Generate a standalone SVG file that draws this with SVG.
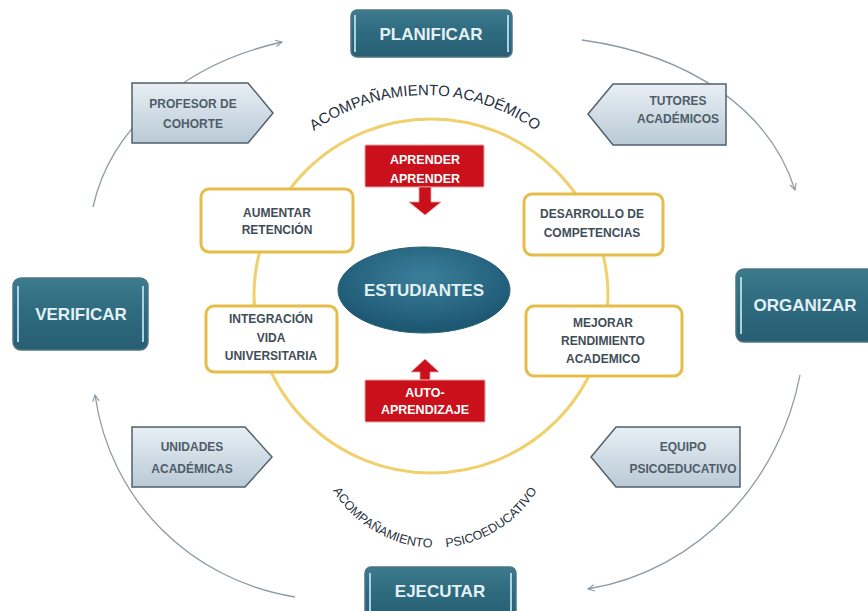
<svg xmlns="http://www.w3.org/2000/svg" width="868" height="611" viewBox="0 0 868 611">
<defs>
<linearGradient id="teal" x1="0" y1="0" x2="0" y2="1">
<stop offset="0" stop-color="#3c7a8e"/><stop offset="0.5" stop-color="#2e6a7e"/><stop offset="1" stop-color="#285e72"/>
</linearGradient>
<linearGradient id="pent" x1="0" y1="0" x2="0" y2="1">
<stop offset="0" stop-color="#e8eff4"/><stop offset="1" stop-color="#b9cad6"/>
</linearGradient>
<radialGradient id="ell" cx="0.5" cy="0.35" r="0.6">
<stop offset="0" stop-color="#3b7f9a"/><stop offset="1" stop-color="#1d5873"/>
</radialGradient>
<marker id="ah" viewBox="0 0 10 10" refX="9" refY="5" markerWidth="8" markerHeight="8" orient="auto" markerUnits="userSpaceOnUse">
<path d="M1 1 L9 5 L1 9" fill="none" stroke="#8c9ba5" stroke-width="1.4"/>
</marker>
<path id="topArc" d="M 300 142 A 190 190 0 0 1 550 142"/>
<path id="botArc" d="M 322 468 A 120 120 0 0 0 548 468"/>
</defs>
<style>
.tealbox{fill:url(#teal);stroke:#4d7583;stroke-width:1.5}
.edge{stroke:#a9d3e2;stroke-width:2}
.tt{font-family:"Liberation Sans",Arial,sans-serif;font-weight:bold;font-size:17px;fill:#e3f0f4;text-anchor:middle}
.pent{fill:url(#pent);stroke:#50606c;stroke-width:1.5}
.pt{font-family:"Liberation Sans",Arial,sans-serif;font-weight:bold;font-size:12px;fill:#4f5d69;text-anchor:middle}
.yb{fill:#ffffff;stroke:#e6bd4a;stroke-width:3}
.yt{font-family:"Liberation Sans",Arial,sans-serif;font-weight:bold;font-size:12px;fill:#3f4d58;text-anchor:middle}
.red{fill:#c9101b;stroke:#e8a0a0;stroke-width:1}
.rt{font-family:"Liberation Sans",Arial,sans-serif;font-weight:bold;font-size:12.5px;fill:#ffffff;text-anchor:middle}
.arc{fill:none;stroke:#8c9ba5;stroke-width:1.3;marker-end:url(#ah)}
.ct{font-family:"Liberation Sans",Arial,sans-serif;fill:#1f2f3d}
</style>
<rect width="868" height="611" fill="#ffffff"/>

<g id="connectors">
<path class="arc" d="M 93 207 C 110 130, 180 65, 282 42"/>
<path class="arc" d="M 582 40 C 690 55, 770 110, 795 190"/>
<path class="arc" d="M 800 375 C 780 480, 700 570, 588 589"/>
<path class="arc" d="M 295 597 C 190 580, 110 500, 95 395"/>
</g>

<g id="ring">
<circle cx="431" cy="296" r="177" fill="none" stroke="#f0d06a" stroke-width="3"/>
</g>

<g id="label-academico">
<text class="ct" font-size="15"><textPath href="#topArc" startOffset="50%" text-anchor="middle">ACOMPAÑAMIENTO ACADÉMICO</textPath></text>
</g>
<g id="label-psicoeducativo">
<text class="ct" font-size="12.5"><textPath href="#botArc" startOffset="50%" text-anchor="middle">ACOMPAÑAMIENTO&#160;&#160;&#160;&#160;PSICOEDUCATIVO</textPath></text>
</g>

<g id="planificar">
<rect class="tealbox" x="351" y="10" width="161" height="47" rx="6"/>
<line class="edge" x1="355" y1="15" x2="355" y2="52"/><line class="edge" x1="508" y1="15" x2="508" y2="52"/>
<text class="tt" x="431" y="40">PLANIFICAR</text>
</g>
<g id="verificar">
<rect class="tealbox" x="13" y="278" width="135" height="72" rx="8"/>
<line class="edge" x1="18" y1="286" x2="18" y2="342"/><line class="edge" x1="143" y1="286" x2="143" y2="342"/>
<text class="tt" x="81" y="320">VERIFICAR</text>
</g>
<g id="organizar">
<rect class="tealbox" x="736" y="269" width="140" height="73" rx="8"/>
<line class="edge" x1="741" y1="277" x2="741" y2="334"/>
<text class="tt" x="805" y="311">ORGANIZAR</text>
</g>
<g id="ejecutar">
<rect class="tealbox" x="365" y="567" width="151" height="52" rx="6"/>
<line class="edge" x1="370" y1="573" x2="370" y2="611"/><line class="edge" x1="511" y1="573" x2="511" y2="611"/>
<text class="tt" x="440" y="597" font-size="16">EJECUTAR</text>
</g>

<g id="profesor">
<path class="pent" d="M132 83 H248 L273 113 L248 143 H132 Z"/>
<text class="pt" x="193" y="108">PROFESOR DE</text>
<text class="pt" x="193" y="128">COHORTE</text>
</g>
<g id="tutores">
<path class="pent" d="M613 84 H726 V145 H613 L588 114 Z"/>
<text class="pt" x="678" y="105">TUTORES</text>
<text class="pt" x="678" y="123">ACADÉMICOS</text>
</g>
<g id="unidades">
<path class="pent" d="M132 427 H245 L272 457 L245 487 H132 Z"/>
<text class="pt" x="192" y="451">UNIDADES</text>
<text class="pt" x="192" y="473">ACADÉMICAS</text>
</g>
<g id="equipo">
<path class="pent" d="M616 427 H740 V487 H616 L591 457 Z"/>
<text class="pt" x="683" y="451">EQUIPO</text>
<text class="pt" x="683" y="473">PSICOEDUCATIVO</text>
</g>

<g id="aumentar">
<rect class="yb" x="201" y="189" width="152" height="63" rx="8"/>
<text class="yt" x="277" y="217">AUMENTAR</text>
<text class="yt" x="277" y="234">RETENCIÓN</text>
</g>
<g id="desarrollo">
<rect class="yb" x="524" y="194" width="139" height="61" rx="8"/>
<text class="yt" x="592" y="218">DESARROLLO DE</text>
<text class="yt" x="592" y="237">COMPETENCIAS</text>
</g>
<g id="integracion">
<rect class="yb" x="206" y="306" width="131" height="66" rx="8"/>
<text class="yt" x="271" y="323">INTEGRACIÓN</text>
<text class="yt" x="271" y="342">VIDA</text>
<text class="yt" x="271" y="360">UNIVERSITARIA</text>
</g>
<g id="mejorar">
<rect class="yb" x="526" y="306" width="156" height="70" rx="8"/>
<text class="yt" x="603" y="327">MEJORAR</text>
<text class="yt" x="603" y="345">RENDIMIENTO</text>
<text class="yt" x="603" y="363">ACADEMICO</text>
</g>

<g id="estudiantes">
<ellipse cx="424" cy="290" rx="86" ry="43" fill="url(#ell)" stroke="#2a5f75" stroke-width="1"/>
<text class="tt" x="424" y="296" font-size="15">ESTUDIANTES</text>
</g>

<g id="aprender">
<rect class="red" x="365" y="145" width="119" height="42" rx="1"/>
<path d="M419 187 H431 V202 H441 L425 215 L409 202 H419 Z" fill="#c9101b" stroke="#e8a0a0" stroke-width="0.8"/>
<text class="rt" x="425" y="164">APRENDER</text>
<text class="rt" x="425" y="183">APRENDER</text>
</g>
<g id="autoaprendizaje">
<path d="M420 380 V372 H411 L425 359 L439 372 H430 V380 Z" fill="#c9101b" stroke="#e8a0a0" stroke-width="0.8"/>
<rect class="red" x="365" y="380" width="120" height="42" rx="1"/>
<text class="rt" x="425" y="397">AUTO-</text>
<text class="rt" x="425" y="414">APRENDIZAJE</text>
</g>
</svg>
